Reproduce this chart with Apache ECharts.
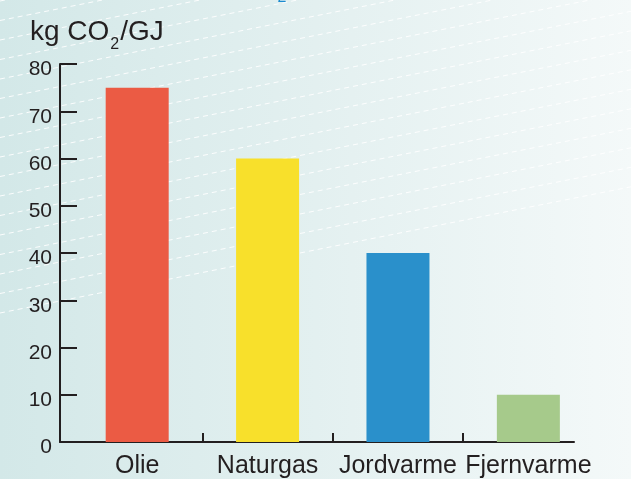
<!DOCTYPE html>
<html>
<head>
    <meta charset="utf-8">
    <title>CO2 per GJ</title>
    <style>
        html, body { margin: 0; padding: 0; }
        #main { width: 631px; height: 479px; }
    </style>
</head>
<body>
    <div id="main"></div>

    <script src="https://cdn.jsdelivr.net/npm/echarts@6/dist/echarts.min.js"></script>
    <script type="text/javascript">
        // data
        var categories = ['Olie', 'Naturgas', 'Jordvarme', 'Fjernvarme'];
        var values = [75, 60, 40, 10];
        var barColors = ['#eb5b44', '#f8e02b', '#2a90cb', '#a6ca8b'];
        var yMin = 0, yMax = 80, yStep = 10;

        var W = 631, H = 479;
        var ink = '#231f20';

        // background: soft gradient with white dashed diagonals
        var bg = [{
            type: 'rect',
            silent: true,
            z: -10,
            shape: { x: 0, y: 0, width: W, height: H },
            style: {
                fill: new echarts.graphic.LinearGradient(0, 0, 1, 0, [
                    { offset: 0, color: '#d3e8e8' },
                    { offset: 0.5, color: '#e3f0f0' },
                    { offset: 1, color: '#f4f9f9' }
                ])
            }
        }];
        for (var y0 = 313; y0 > -20; y0 -= 19.5) {
            bg.push({
                type: 'line',
                silent: true,
                z: -9,
                shape: { x1: 0, y1: y0, x2: W, y2: y0 - 0.2 * W },
                style: { stroke: 'rgba(255,255,255,0.9)', lineWidth: 1, lineDash: [5, 4] }
            });
        }
        // clipped blue subscript from the heading above
        bg.push({
            type: 'text',
            silent: true,
            style: { text: '2', x: 282, y: 6, align: 'center', verticalAlign: 'bottom', fill: '#1b8bd0', font: '16px "Liberation Sans", Arial, sans-serif' }
        });

        var myChart = echarts.init(document.getElementById('main'));
        var option = {
            animation: false,
            textStyle: { fontFamily: '"Liberation Sans", Arial, sans-serif' },
            graphic: bg,
            title: {
                text: 'kg CO{s|2}/GJ',
                left: 25,
                top: 7,
                textStyle: {
                    fontSize: 28,
                    fontWeight: 'normal',
                    color: ink,
                    rich: {
                        s: { fontSize: 16, color: ink, padding: [25, 1, 0, 1] }
                    }
                }
            },
            grid: {
                left: 60,
                right: 57,
                top: 64,
                bottom: 37
            },
            xAxis: {
                type: 'value',
                min: -0.592,
                max: 3.35,
                splitLine: { show: false },
                axisLine: { show: true, lineStyle: { color: ink, width: 2 } },
                axisTick: {
                    show: true,
                    inside: true,
                    length: 9,
                    customValues: [0.5, 1.5, 2.5],
                    lineStyle: { color: ink, width: 2 }
                },
                axisLabel: {
                    customValues: [0, 1, 2, 3],
                    formatter: function (v) { return categories[Math.round(v)]; },
                    fontSize: 25,
                    color: ink,
                    margin: 12
                }
            },
            yAxis: {
                type: 'value',
                min: yMin,
                max: yMax,
                interval: yStep,
                splitLine: { show: false },
                axisLine: { show: true, onZero: false, lineStyle: { color: ink, width: 2 } },
                axisTick: { show: true, inside: true, length: 17, lineStyle: { color: ink, width: 2 } },
                axisLabel: { fontSize: 21, color: ink, margin: 8, verticalAlign: 'top', lineHeight: 11 }
            },
            series: [{
                type: 'bar',
                barWidth: 63,
                data: values.map(function (v, i) {
                    return { value: [i, v], itemStyle: { color: barColors[i] } };
                })
            }]
        };
        myChart.setOption(option);
    </script>
</body>
</html>
